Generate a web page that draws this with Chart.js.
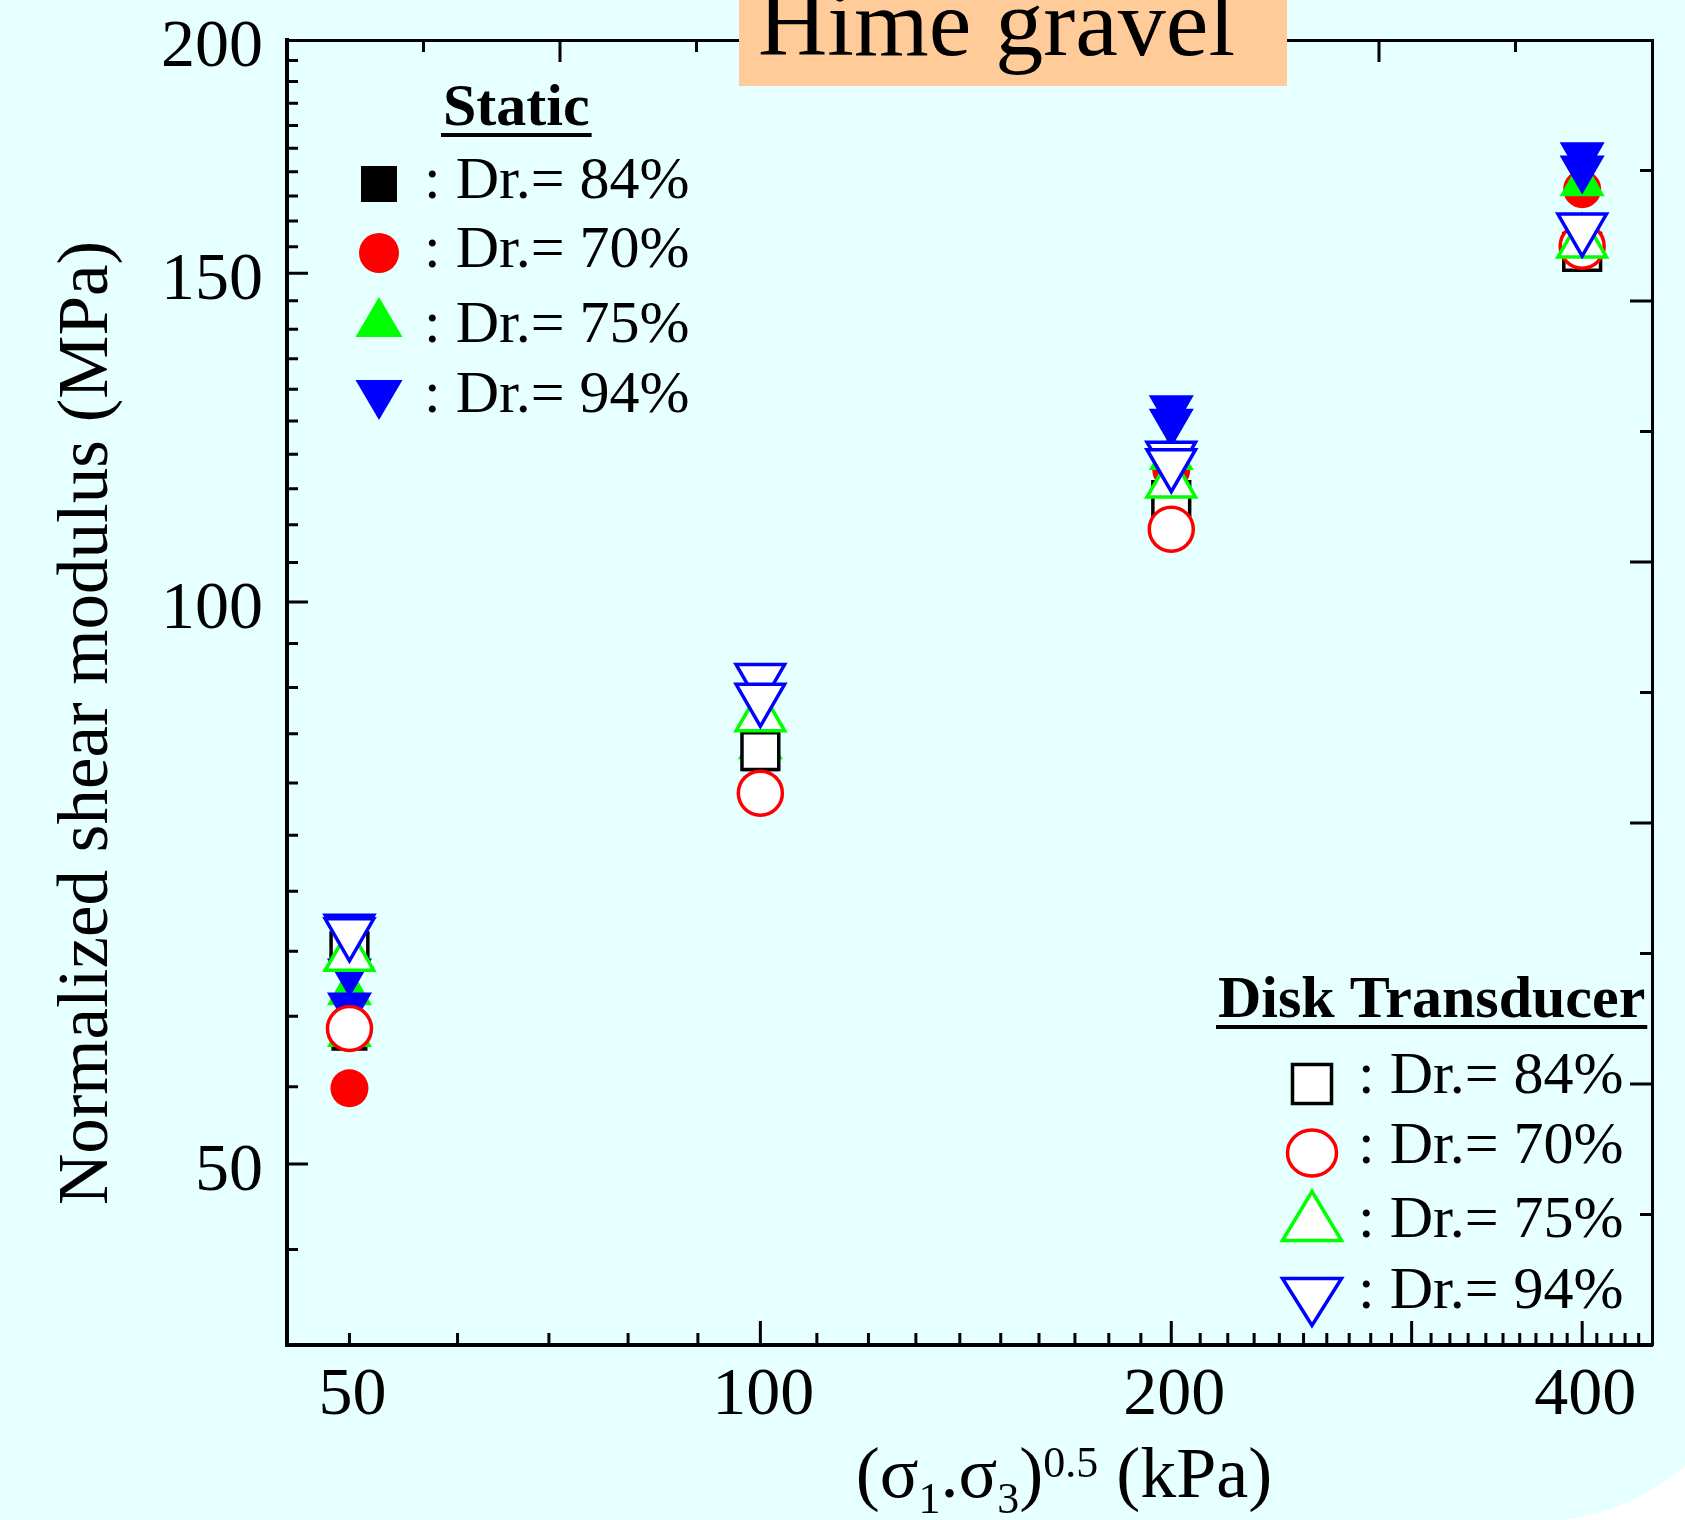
<!DOCTYPE html>
<html>
<head>
<meta charset="utf-8">
<title>Hime gravel</title>
<script src="https://cdn.jsdelivr.net/npm/chart.js@4.4.1/dist/chart.umd.min.js"></script>
<style>
    html, body { margin: 0; padding: 0; background: #ffffff; }
    #wrap { width: 1685px; height: 1520px; }
</style>
</head>
<body>
<div id="wrap"><canvas id="chart" width="1685" height="1520"></canvas></div>
<script>
// confining stress (sigma1.sigma3)^0.5 in kPa
const pressure = [50, 100, 200, 400];

// Static tests (filled markers), MPa
const static84 = [58.8, 83.0, 113.6, 154.2];
const static70 = [54.9, 79.2, 117.7, 166.4];
const static75 = [61.8, 83.7, 119.6, 167.6];
const static75b = [58.7, null, null, null];
const static94 = [63.4, 90.8, 127.0, 173.5];
const static94b = [60.8, 88.6, 124.9, 170.7];

// Disk transducer (open markers), MPa
const disk84 = [65.0, 83.2, 113.4, 154.0];
const disk70 = [59.1, 79.0, 109.4, 155.1];
const disk75 = [64.6, 86.8, 115.8, 155.7];
const disk94 = [66.8, 91.0, 119.7, 158.6];
const disk94b = [66.5, 88.8, 118.6, null];

// tick marks and labels
const xTicks = [50, 60, 70, 80, 90, 100, 110, 120, 130, 140, 150, 160, 170, 180, 190, 200,
    210, 220, 230, 240, 250, 260, 270, 280, 290, 300, 310, 320, 330, 340, 350, 360, 370,
    380, 390, 400, 410, 420, 430, 440];
const xTickLabels = [50, 100, 200, 400];
const xMajor = [100, 200, 300, 400];
const yTicks = [45, 50, 55, 60, 65, 70, 75, 80, 85, 90, 95, 100, 105, 110, 115, 120, 125,
    130, 135, 140, 145, 150, 155, 160, 165, 170, 175, 180, 185, 190, 195, 200];
const yTickLabels = [50, 100, 150, 200];
const yMajor = [50, 100, 150];
const frameTicks = [1, 2, 3, 4, 5, 6, 7, 8, 9];

const legendLabels = [': Dr.= 84%', ': Dr.= 70%', ': Dr.= 75%', ': Dr.= 94%'];

const SERIF = '"Liberation Serif", "Times New Roman", serif';
const BLACK = '#000000', RED = '#ff0000', GREEN = '#00ff00', BLUE = '#0000ff';

function points(...lists) {
    const out = [];
    lists.forEach(list => {
        list.forEach((v, i) => { if (v !== null) out.push({ x: pressure[i], y: v }); });
    });
    return out;
}

function filled(label, data, style, radius, color, order, rotation) {
    return {
        label, data, order,
        pointStyle: style, pointRadius: radius, pointRotation: rotation || 0,
        backgroundColor: color, borderColor: color, borderWidth: 0,
        showLine: false, clip: false
    };
}

function open(label, data, style, radius, color, order, rotation) {
    return {
        label, data, order,
        pointStyle: style, pointRadius: radius, pointRotation: rotation || 0,
        backgroundColor: '#ffffff', borderColor: color, borderWidth: 3.5,
        showLine: false, clip: false
    };
}

// legend marker, drawn by bounding box
function marker(ctx, style, x, y, w, h, fill, stroke) {
    ctx.beginPath();
    if (style === 'rect') {
        ctx.rect(x - w / 2, y - h / 2, w, h);
    } else if (style === 'circle') {
        ctx.ellipse(x, y, w / 2, h / 2, 0, 0, Math.PI * 2);
    } else if (style === 'up') {
        ctx.moveTo(x, y - h / 2);
        ctx.lineTo(x + w / 2, y + h / 2);
        ctx.lineTo(x - w / 2, y + h / 2);
        ctx.closePath();
    } else {
        ctx.moveTo(x - w / 2, y - h / 2);
        ctx.lineTo(x + w / 2, y - h / 2);
        ctx.lineTo(x, y + h / 2);
        ctx.closePath();
    }
    ctx.fillStyle = fill;
    ctx.fill();
    if (stroke) {
        ctx.strokeStyle = stroke;
        ctx.lineWidth = 3.5;
        ctx.lineJoin = 'miter';
        ctx.stroke();
    }
}

function legendBlock(ctx, title, tx, ty, mx, textX, rows) {
    ctx.fillStyle = BLACK;
    ctx.font = 'bold 60px ' + SERIF;
    ctx.textAlign = 'left';
    ctx.textBaseline = 'alphabetic';
    ctx.fillText(title, tx, ty);
    const w = ctx.measureText(title).width;
    ctx.fillRect(tx - 2, ty + 8, w + 4, 4);

    ctx.font = '60px ' + SERIF;
    rows.forEach((r, i) => {
        marker(ctx, r.style, mx, r.y, r.w, r.h, r.fill, r.stroke);
        ctx.fillStyle = BLACK;
        ctx.fillText(legendLabels[i], textX, r.base);
    });
}

const decorations = {
    id: 'decorations',
    beforeDraw(chart) {
        const ctx = chart.ctx;
        const W = chart.width, H = chart.height;
        ctx.save();
        ctx.fillStyle = '#ffffff';
        ctx.fillRect(0, 0, W, H);
        // slide background with a rounded lower-right corner
        const cx = 1539, cy = 1301, R = 220;
        const a1 = Math.asin(Math.min(1, (W - cx) / R));
        const start = Math.PI / 2 - a1;
        const end = Math.PI / 2 - Math.asin(Math.min(1, (H - cy) / R)) + Math.PI / 2 - (Math.PI / 2 - Math.acos(Math.min(1, (H - cy) / R)));
        ctx.fillStyle = '#e6ffff';
        ctx.beginPath();
        ctx.moveTo(0, 0);
        ctx.lineTo(W, 0);
        ctx.lineTo(W, cy + Math.sqrt(R * R - (W - cx) * (W - cx)));
        ctx.arc(cx, cy, R, Math.atan2(Math.sqrt(R * R - (W - cx) * (W - cx)), W - cx),
            Math.atan2(H - cy, Math.sqrt(Math.max(0, R * R - (H - cy) * (H - cy)))), false);
        ctx.lineTo(0, H);
        ctx.closePath();
        ctx.fill();
        ctx.restore();
    },
    afterDraw(chart) {
        const ctx = chart.ctx;
        const area = chart.chartArea;
        const sx = chart.scales.x, sy = chart.scales.y;
        const sx2 = chart.scales.x2, sy2 = chart.scales.y2;
        ctx.save();

        // inward tick marks
        ctx.strokeStyle = BLACK;
        ctx.lineWidth = 3;
        ctx.beginPath();
        xTicks.forEach(v => {
            const p = sx.getPixelForValue(v);
            const len = xMajor.includes(v) ? 24 : 12;
            ctx.moveTo(p, area.bottom);
            ctx.lineTo(p, area.bottom - len);
        });
        yTicks.forEach(v => {
            if (v >= 200) return;
            const p = sy.getPixelForValue(v);
            const len = yMajor.includes(v) ? 21 : 11;
            ctx.moveTo(area.left, p);
            ctx.lineTo(area.left + len, p);
        });
        frameTicks.forEach(k => {
            const len = k % 2 === 0 ? 22 : 12;
            const px = sx2.getPixelForValue(k);
            ctx.moveTo(px, area.top);
            ctx.lineTo(px, area.top + len);
            const py = sy2.getPixelForValue(k);
            ctx.moveTo(area.right, py);
            ctx.lineTo(area.right - len, py);
        });
        ctx.stroke();

        // title box
        ctx.fillStyle = '#ffcc99';
        ctx.fillRect(739, 0, 548, 86);
        ctx.fillStyle = BLACK;
        ctx.font = '96px ' + SERIF;
        ctx.textAlign = 'left';
        ctx.textBaseline = 'alphabetic';
        ctx.fillText('Hime gravel', 758, 55);

        // legends
        legendBlock(ctx, 'Static', 443, 125, 379, 424, [
            { style: 'rect', y: 184, w: 36, h: 36, fill: BLACK, base: 198 },
            { style: 'circle', y: 253, w: 40, h: 40, fill: RED, base: 267 },
            { style: 'up', y: 317, w: 47, h: 40, fill: GREEN, base: 342 },
            { style: 'down', y: 400, w: 47, h: 40, fill: BLUE, base: 412 }
        ]);
        legendBlock(ctx, 'Disk Transducer', 1218, 1017, 1312, 1358, [
            { style: 'rect', y: 1084, w: 39, h: 39, fill: '#ffffff', stroke: BLACK, base: 1093 },
            { style: 'circle', y: 1153, w: 49, h: 46, fill: '#ffffff', stroke: RED, base: 1163 },
            { style: 'up', y: 1216, w: 59, h: 49, fill: '#ffffff', stroke: GREEN, base: 1237 },
            { style: 'down', y: 1302, w: 59, h: 47, fill: '#ffffff', stroke: BLUE, base: 1308 }
        ]);

        // y axis title
        ctx.save();
        ctx.translate(88, 723);
        ctx.rotate(-Math.PI / 2);
        ctx.font = '71px ' + SERIF;
        ctx.textAlign = 'center';
        ctx.textBaseline = 'middle';
        ctx.fillStyle = BLACK;
        ctx.fillText('Normalized shear modulus (MPa)', 0, 0);
        ctx.restore();

        // x axis title with sub- and superscripts
        const big = '72px ' + SERIF, small = '44px ' + SERIF;
        const parts = [
            { t: '(', f: big, dy: 0 }, { t: 'σ', f: big, dy: 0 }, { t: '1', f: small, dy: 16 },
            { t: '.', f: big, dy: 0 }, { t: 'σ', f: big, dy: 0 }, { t: '3', f: small, dy: 16 },
            { t: ')', f: big, dy: 0 }, { t: '0.5', f: small, dy: -20 }, { t: ' (kPa)', f: big, dy: 0 }
        ];
        let total = 0;
        parts.forEach(p => { ctx.font = p.f; p.w = ctx.measureText(p.t).width; total += p.w; });
        let x = 1064 - total / 2;
        ctx.textAlign = 'left';
        ctx.textBaseline = 'alphabetic';
        parts.forEach(p => {
            ctx.font = p.f;
            ctx.fillText(p.t, x, 1497 + p.dy);
            x += p.w;
        });

        ctx.restore();
    }
};

const tickFont = { family: SERIF, size: 68 };

new Chart(document.getElementById('chart').getContext('2d'), {
    type: 'scatter',
    data: {
        datasets: [
            filled('Static Dr.=84%', points(static84), 'rect', 25.5, BLACK, 8),
            filled('Static Dr.=70%', points(static70), 'circle', 19, RED, 7),
            filled('Static Dr.=75%', points(static75, static75b), 'triangle', 26, GREEN, 6),
            filled('Static Dr.=94%', points(static94, static94b), 'triangle', 26, BLUE, 5, 180),
            open('Disk Dr.=84%', points(disk84), 'rect', 26, BLACK, 4),
            open('Disk Dr.=70%', points(disk70), 'circle', 22, RED, 3),
            open('Disk Dr.=75%', points(disk75), 'triangle', 28, GREEN, 2),
            open('Disk Dr.=94%', points(disk94, disk94b), 'triangle', 28, BLUE, 1, 180)
        ]
    },
    options: {
        responsive: false,
        animation: false,
        events: [],
        layout: { padding: 0, autoPadding: false },
        plugins: {
            legend: { display: false },
            tooltip: { enabled: false },
            title: { display: false }
        },
        scales: {
            x: {
                type: 'logarithmic',
                position: 'bottom',
                min: 45,
                max: 450,
                afterBuildTicks: s => { s.ticks = xTicks.map(v => ({ value: v })); },
                afterFit: s => { s.height = 175; s.paddingLeft = 0; s.paddingRight = 0; },
                grid: { display: false, drawTicks: false },
                border: { display: true, color: BLACK, width: 4 },
                ticks: {
                    autoSkip: false, maxRotation: 0, minRotation: 0,
                    padding: 10, labelOffset: 3,
                    color: BLACK, font: tickFont,
                    callback: v => xTickLabels.includes(v) ? String(v) : ''
                }
            },
            y: {
                type: 'logarithmic',
                position: 'left',
                min: 40,
                max: 200,
                afterBuildTicks: s => { s.ticks = yTicks.map(v => ({ value: v })); },
                afterFit: s => { s.width = 287; s.paddingTop = 0; s.paddingBottom = 0; },
                grid: { display: false, drawTicks: false },
                border: { display: true, color: BLACK, width: 4 },
                ticks: {
                    autoSkip: false, padding: 24, labelOffset: 8,
                    color: BLACK, font: tickFont,
                    callback: v => yTickLabels.includes(v) ? String(v) : ''
                }
            },
            x2: {
                type: 'linear',
                position: 'top',
                min: 0,
                max: 10,
                afterFit: s => { s.height = 40; s.paddingLeft = 0; s.paddingRight = 0; },
                grid: { display: false, drawTicks: false },
                border: { display: true, color: BLACK, width: 3 },
                ticks: { display: false, stepSize: 1 }
            },
            y2: {
                type: 'linear',
                position: 'right',
                min: 0,
                max: 10,
                afterFit: s => { s.width = 33; s.paddingTop = 0; s.paddingBottom = 0; },
                grid: { display: false, drawTicks: false },
                border: { display: true, color: BLACK, width: 3 },
                ticks: { display: false, stepSize: 1 }
            }
        }
    },
    plugins: [decorations]
});
</script>
</body>
</html>
